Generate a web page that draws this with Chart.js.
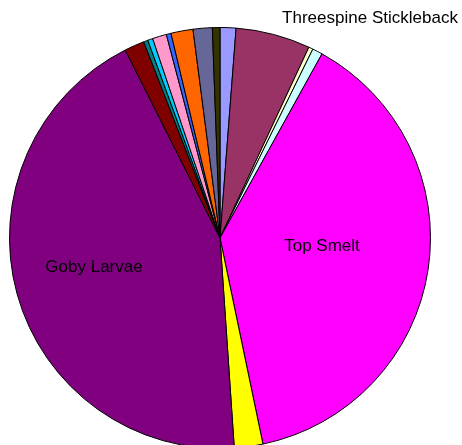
<!DOCTYPE html>
<html>
<head>
<meta charset="utf-8">
<script src="https://cdn.jsdelivr.net/npm/chart.js@4"></script>
<style>
    html, body { margin: 0; padding: 0; background: #fff; overflow: hidden; }
    #wrap { width: 462px; height: 460px; }
</style>
</head>
<body>
<div id="wrap"><canvas id="fishPie" width="462" height="460"></canvas></div>
<script>
// slice values (share of catch, %)
const taxa = [
    'Taxon A', 'Threespine Stickleback', 'Taxon C', 'Taxon D', 'Top Smelt',
    'Taxon F', 'Goby Larvae', 'Taxon H', 'Taxon I', 'Taxon J',
    'Taxon K', 'Taxon L', 'Taxon M', 'Taxon N', 'Taxon O'
];
const percents = [1.22, 5.72, 0.33, 0.78, 38.67, 2.19, 43.64, 1.53, 0.33, 0.39, 1.08, 0.36, 1.69, 1.47, 0.58];
const sliceColors = [
    '#9999FF', '#993366', '#FFFFCC', '#CCFFFF', '#FF00FF',
    '#FFFF00', '#800080', '#800000', '#008080', '#00CCFF',
    '#FF99CC', '#3366FF', '#FF6600', '#666699', '#333300'
];
const shownLabels = ['Top Smelt', 'Goby Larvae', 'Threespine Stickleback'];

// labels are placed where the original chart had them
const labelPlugin = {
    id: 'sliceLabels',
    afterDatasetsDraw(chart) {
        const arc = chart.getDatasetMeta(0).data[0];
        const ctx = chart.ctx;
        const spots = {
            'Top Smelt': [102, 8],
            'Goby Larvae': [-126, 29],
            'Threespine Stickleback': [150, -220]
        };
        ctx.save();
        ctx.font = '17px "Liberation Sans", Arial, sans-serif';
        ctx.fillStyle = '#000';
        ctx.textAlign = 'center';
        ctx.textBaseline = 'middle';
        shownLabels.forEach(name => {
            const off = spots[name];
            ctx.fillText(name, arc.x + off[0], arc.y + off[1]);
        });
        ctx.restore();
    }
};

const ctx = document.getElementById('fishPie').getContext('2d');
new Chart(ctx, {
    type: 'pie',
    data: {
        labels: taxa,
        datasets: [{
            data: percents,
            backgroundColor: sliceColors,
            borderColor: '#000',
            borderWidth: 1
        }]
    },
    options: {
        responsive: false,
        animation: false,
        layout: { padding: { left: 9, right: 31, top: 27, bottom: 11 } },
        plugins: {
            legend: { display: false },
            tooltip: { enabled: false }
        }
    },
    plugins: [labelPlugin]
});
</script>
</body>
</html>
